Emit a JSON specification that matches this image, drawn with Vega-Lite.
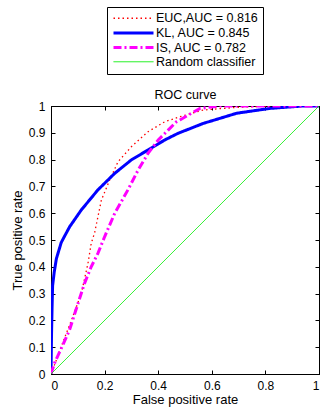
{
  "$schema": "https://vega.github.io/schema/vega-lite/v6.json",
  "autosize": "none",
  "width": 268,
  "height": 268,
  "padding": {"left": 51, "top": 106, "right": 1, "bottom": 35},
  "background": "white",
  "config": {
    "font": "Liberation Sans",
    "view": {"stroke": "black", "strokeWidth": 1},
    "axis": {"grid": false, "domainColor": "black", "tickColor": "black", "labelColor": "black", "titleColor": "black", "labelFontSize": 12, "titleFontSize": 13, "titleFontWeight": "normal", "tickSize": -4, "labelPadding": 10}
  },
  "data": {"values": [
    {"s": "EUC,AUC = 0.816", "x": 0, "y": 0},
    {"s": "EUC,AUC = 0.816", "x": 0.02, "y": 0.052},
    {"s": "EUC,AUC = 0.816", "x": 0.045, "y": 0.12},
    {"s": "EUC,AUC = 0.816", "x": 0.076, "y": 0.2},
    {"s": "EUC,AUC = 0.816", "x": 0.113, "y": 0.3},
    {"s": "EUC,AUC = 0.816", "x": 0.138, "y": 0.413},
    {"s": "EUC,AUC = 0.816", "x": 0.15, "y": 0.487},
    {"s": "EUC,AUC = 0.816", "x": 0.163, "y": 0.528},
    {"s": "EUC,AUC = 0.816", "x": 0.188, "y": 0.649},
    {"s": "EUC,AUC = 0.816", "x": 0.219, "y": 0.724},
    {"s": "EUC,AUC = 0.816", "x": 0.25, "y": 0.792},
    {"s": "EUC,AUC = 0.816", "x": 0.3, "y": 0.848},
    {"s": "EUC,AUC = 0.816", "x": 0.362, "y": 0.904},
    {"s": "EUC,AUC = 0.816", "x": 0.424, "y": 0.941},
    {"s": "EUC,AUC = 0.816", "x": 0.481, "y": 0.96},
    {"s": "EUC,AUC = 0.816", "x": 0.568, "y": 0.985},
    {"s": "EUC,AUC = 0.816", "x": 0.693, "y": 0.995},
    {"s": "EUC,AUC = 0.816", "x": 0.82, "y": 1},
    {"s": "EUC,AUC = 0.816", "x": 1, "y": 1},
    {"s": "KL, AUC = 0.845", "x": 0, "y": 0},
    {"s": "KL, AUC = 0.845", "x": 0.002, "y": 0.15},
    {"s": "KL, AUC = 0.845", "x": 0.004, "y": 0.25},
    {"s": "KL, AUC = 0.845", "x": 0.006, "y": 0.33},
    {"s": "KL, AUC = 0.845", "x": 0.012, "y": 0.38},
    {"s": "KL, AUC = 0.845", "x": 0.02, "y": 0.43},
    {"s": "KL, AUC = 0.845", "x": 0.038, "y": 0.49},
    {"s": "KL, AUC = 0.845", "x": 0.051, "y": 0.515},
    {"s": "KL, AUC = 0.845", "x": 0.07, "y": 0.55},
    {"s": "KL, AUC = 0.845", "x": 0.113, "y": 0.612},
    {"s": "KL, AUC = 0.845", "x": 0.175, "y": 0.687},
    {"s": "KL, AUC = 0.845", "x": 0.238, "y": 0.749},
    {"s": "KL, AUC = 0.845", "x": 0.3, "y": 0.799},
    {"s": "KL, AUC = 0.845", "x": 0.362, "y": 0.836},
    {"s": "KL, AUC = 0.845", "x": 0.424, "y": 0.873},
    {"s": "KL, AUC = 0.845", "x": 0.474, "y": 0.898},
    {"s": "KL, AUC = 0.845", "x": 0.568, "y": 0.935},
    {"s": "KL, AUC = 0.845", "x": 0.693, "y": 0.973},
    {"s": "KL, AUC = 0.845", "x": 0.817, "y": 0.991},
    {"s": "KL, AUC = 0.845", "x": 0.94, "y": 1},
    {"s": "KL, AUC = 0.845", "x": 1, "y": 1},
    {"s": "IS, AUC = 0.782", "x": 0, "y": 0},
    {"s": "IS, AUC = 0.782", "x": 0.013, "y": 0.04},
    {"s": "IS, AUC = 0.782", "x": 0.044, "y": 0.108},
    {"s": "IS, AUC = 0.782", "x": 0.069, "y": 0.164},
    {"s": "IS, AUC = 0.782", "x": 0.101, "y": 0.264},
    {"s": "IS, AUC = 0.782", "x": 0.125, "y": 0.338},
    {"s": "IS, AUC = 0.782", "x": 0.15, "y": 0.4},
    {"s": "IS, AUC = 0.782", "x": 0.175, "y": 0.45},
    {"s": "IS, AUC = 0.782", "x": 0.2, "y": 0.512},
    {"s": "IS, AUC = 0.782", "x": 0.238, "y": 0.6},
    {"s": "IS, AUC = 0.782", "x": 0.287, "y": 0.687},
    {"s": "IS, AUC = 0.782", "x": 0.325, "y": 0.761},
    {"s": "IS, AUC = 0.782", "x": 0.362, "y": 0.823},
    {"s": "IS, AUC = 0.782", "x": 0.4, "y": 0.873},
    {"s": "IS, AUC = 0.782", "x": 0.437, "y": 0.91},
    {"s": "IS, AUC = 0.782", "x": 0.468, "y": 0.941},
    {"s": "IS, AUC = 0.782", "x": 0.481, "y": 0.948},
    {"s": "IS, AUC = 0.782", "x": 0.556, "y": 0.991},
    {"s": "IS, AUC = 0.782", "x": 0.63, "y": 1},
    {"s": "IS, AUC = 0.782", "x": 1, "y": 1},
    {"s": "Random classifier", "x": 0, "y": 0},
    {"s": "Random classifier", "x": 1, "y": 1}
  ]},
  "layer": [
    {
      "mark": {"type": "line", "clip": true},
      "encoding": {
        "x": {"field": "x", "type": "quantitative", "scale": {"domain": [0, 1], "nice": false}, "axis": {"values": [0, 0.2, 0.4, 0.6, 0.8, 1], "format": "~g", "title": "False positive rate", "titlePadding": 2}},
        "y": {"field": "y", "type": "quantitative", "scale": {"domain": [0, 1], "nice": false}, "axis": {"values": [0, 0.1, 0.2, 0.3, 0.4, 0.5, 0.6, 0.7, 0.8, 0.9, 1], "format": "~g", "title": "True positive rate", "titlePadding": 4}},
        "color": {"field": "s", "type": "nominal", "scale": {"domain": ["EUC,AUC = 0.816", "KL, AUC = 0.845", "IS, AUC = 0.782", "Random classifier"], "range": ["#ff0000", "#0000ff", "#ff00ff", "#00ee00"]},
          "legend": {"title": null, "orient": "none", "legendX": 56, "legendY": -99, "symbolType": "M-4,0H4", "symbolSize": 100, "labelFontSize": 12.5, "labelColor": "black", "strokeColor": "black", "padding": 5, "fillColor": "white", "rowPadding": 1.5, "symbolOffset": 15, "labelOffset": 16}},
        "strokeDash": {"field": "s", "type": "nominal", "scale": {"domain": ["EUC,AUC = 0.816", "KL, AUC = 0.845", "IS, AUC = 0.782", "Random classifier"], "range": [[1.5, 3], [1, 0], [8, 3, 2, 3], [1, 0]]}, "legend": null},
        "strokeWidth": {"field": "s", "type": "ordinal", "scale": {"type": "ordinal", "domain": ["EUC,AUC = 0.816", "KL, AUC = 0.845", "IS, AUC = 0.782", "Random classifier"], "range": [1.3, 3, 3, 1]}, "legend": null}
      }
    },
    {
      "mark": {"type": "rule", "opacity": 0},
      "encoding": {
        "x": {"field": "x", "type": "quantitative", "axis": {"orient": "top", "labels": false, "title": "ROC curve", "titleFontSize": 12.5, "titlePadding": 4, "values": [0, 0.2, 0.4, 0.6, 0.8, 1]}},
        "y": {"field": "y", "type": "quantitative", "axis": {"orient": "right", "labels": false, "title": null, "values": [0, 0.1, 0.2, 0.3, 0.4, 0.5, 0.6, 0.7, 0.8, 0.9, 1]}}
      }
    }
  ],
  "resolve": {"axis": {"x": "independent", "y": "independent"}}
}
